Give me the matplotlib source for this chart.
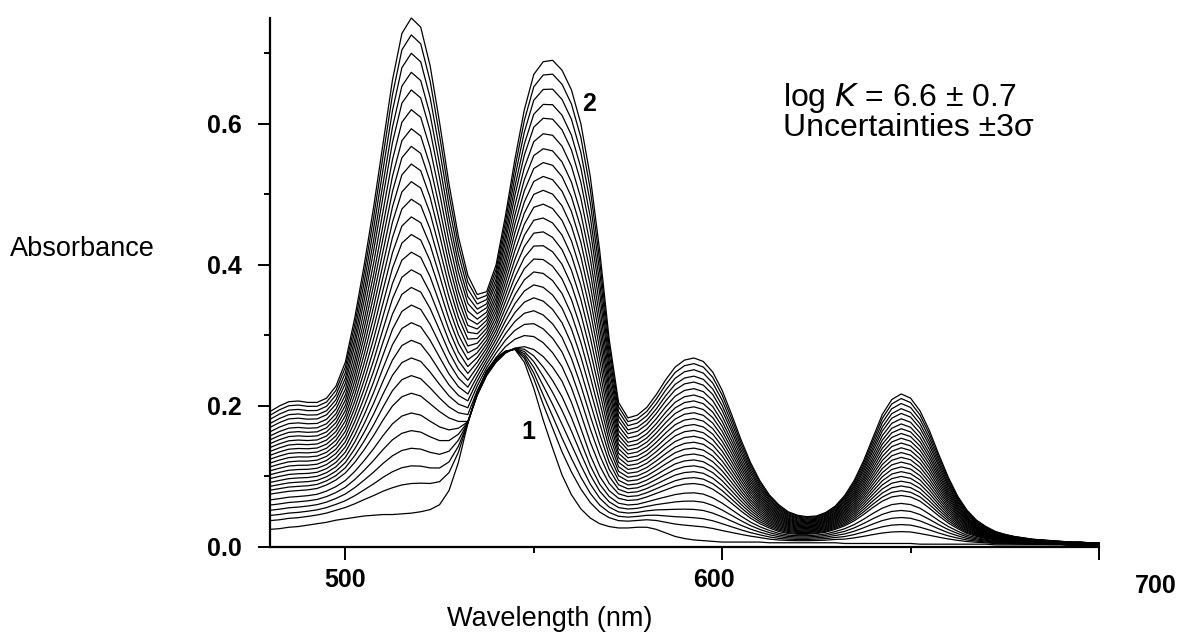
import matplotlib
matplotlib.use("Agg")
import matplotlib.pyplot as plt
import numpy as np
from matplotlib.ticker import FixedLocator
from matplotlib.transforms import ScaledTranslation

plt.rcParams["font.family"] = ["Liberation Sans", "DejaVu Sans"]

# sampling grid of the spectra (nm)
wavelength = np.arange(480.0, 700.1, 2.5)

# curve 1: free ligand
spec_start = [
    0.025, 0.026, 0.028, 0.029, 0.031, 0.033, 0.035, 0.038, 0.040, 0.042,
    0.044, 0.045, 0.046, 0.046, 0.047, 0.048, 0.050, 0.053, 0.060, 0.080,
    0.120, 0.175, 0.220, 0.250, 0.268, 0.278, 0.280, 0.262, 0.225, 0.180,
    0.140, 0.102, 0.074, 0.054, 0.041, 0.033, 0.029, 0.027, 0.027, 0.028,
    0.028, 0.025, 0.020, 0.015, 0.012, 0.010, 0.009, 0.008, 0.007, 0.007,
    0.007, 0.007, 0.007, 0.006, 0.006, 0.006, 0.006, 0.006, 0.006, 0.006,
    0.006, 0.005, 0.005, 0.005, 0.005, 0.005, 0.005, 0.005, 0.005, 0.004,
    0.004, 0.004, 0.004, 0.004, 0.004, 0.004, 0.004, 0.003, 0.003, 0.003,
    0.003, 0.003, 0.003, 0.003, 0.003, 0.002, 0.002, 0.002, 0.002,
]

# last trace that still goes through the 532/545 nm crossing points
spec_mid = [
    0.075, 0.077, 0.079, 0.080, 0.081, 0.083, 0.088, 0.095, 0.105, 0.120,
    0.138, 0.158, 0.180, 0.200, 0.213, 0.218, 0.214, 0.203, 0.192, 0.183,
    0.178, 0.178, 0.215, 0.243, 0.262, 0.275, 0.282, 0.284, 0.280, 0.270,
    0.255, 0.235, 0.205, 0.168, 0.130, 0.100, 0.080, 0.069, 0.066, 0.067,
    0.071, 0.076, 0.081, 0.086, 0.089, 0.090, 0.088, 0.082, 0.073, 0.062,
    0.051, 0.041, 0.033, 0.027, 0.022, 0.019, 0.018, 0.018, 0.019, 0.021,
    0.025, 0.030, 0.037, 0.046, 0.056, 0.065, 0.071, 0.073, 0.071, 0.065,
    0.055, 0.044, 0.034, 0.026, 0.019, 0.015, 0.012, 0.010, 0.009, 0.008,
    0.007, 0.006, 0.006, 0.005, 0.005, 0.005, 0.004, 0.004, 0.004,
]

# curve 2: end of the titration
spec_end = [
    0.192, 0.200, 0.206, 0.207, 0.205, 0.205, 0.211, 0.228, 0.262, 0.325,
    0.400, 0.482, 0.572, 0.662, 0.728, 0.750, 0.737, 0.682, 0.602, 0.515,
    0.440, 0.385, 0.358, 0.362, 0.400, 0.470, 0.550, 0.620, 0.670, 0.688,
    0.690, 0.676, 0.648, 0.600, 0.525, 0.420, 0.295, 0.205, 0.183, 0.187,
    0.198, 0.216, 0.237, 0.255, 0.265, 0.268, 0.263, 0.248, 0.222, 0.188,
    0.152, 0.120, 0.094, 0.074, 0.060, 0.050, 0.045, 0.043, 0.044, 0.049,
    0.058, 0.073, 0.094, 0.122, 0.155, 0.188, 0.209, 0.217, 0.211, 0.193,
    0.165, 0.131, 0.099, 0.072, 0.052, 0.038, 0.029, 0.022, 0.018, 0.015,
    0.013, 0.011, 0.010, 0.009, 0.008, 0.007, 0.007, 0.006, 0.006,
]

# absorbance of every trace at 517.5 nm, bottom to top
peak_517 = [
    0.048, 0.090, 0.115, 0.140, 0.165, 0.190, 0.218, 0.243, 0.268, 0.293,
    0.318, 0.343, 0.368, 0.393, 0.418, 0.443, 0.468, 0.493, 0.518, 0.543,
    0.568, 0.593, 0.620, 0.648, 0.673, 0.700, 0.726, 0.750,
]

spec_start = np.array(spec_start)
spec_mid = np.array(spec_mid)
spec_end = np.array(spec_end)
i517 = int(np.argmin(np.abs(wavelength - 517.5)))

fig = plt.figure(figsize=(11.82, 6.32), dpi=100)
ax = fig.add_axes([270 / 1182, 85 / 632, 829 / 1182, 529 / 632])

for p in peak_517:
    if p <= spec_mid[i517]:
        t = (p - spec_start[i517]) / (spec_mid[i517] - spec_start[i517])
        y = spec_start + t * (spec_mid - spec_start)
    else:
        t = (p - spec_mid[i517]) / (spec_end[i517] - spec_mid[i517])
        y = spec_mid + t * (spec_end - spec_mid)
    ax.plot(wavelength, y, color="black", lw=0.9, clip_on=False)

ax.set_xlim(480, 700)
ax.set_ylim(0, 0.75)
for s in ("top", "right"):
    ax.spines[s].set_visible(False)
for s in ("left", "bottom"):
    ax.spines[s].set_linewidth(1.6)

ax.xaxis.set_major_locator(FixedLocator([500, 600, 700]))
ax.xaxis.set_minor_locator(FixedLocator([550, 650]))
ax.yaxis.set_major_locator(FixedLocator([0.0, 0.2, 0.4, 0.6]))
ax.yaxis.set_minor_locator(FixedLocator([0.1, 0.3, 0.5, 0.7]))
ax.tick_params(which="major", length=9, width=1.4, direction="out")
ax.tick_params(which="minor", length=4.5, width=1.4, direction="out")
ax.tick_params(axis="y", which="major", pad=11)
ax.tick_params(axis="x", which="major", pad=6)
ax.set_yticklabels(["0.0", "0.2", "0.4", "0.6"], fontsize=18, fontweight="bold")
ax.set_xticklabels(["500", "600", "700"], fontsize=18, fontweight="bold")

# the 600 and 700 labels sit off their ticks in the original
xl = ax.get_xticklabels()
xl[1].set_transform(xl[1].get_transform() + ScaledTranslation(-0.08, 0, fig.dpi_scale_trans))
xl[2].set_transform(xl[2].get_transform() + ScaledTranslation(0.57, -0.06, fig.dpi_scale_trans))

fig.text(10 / 1182, 1 - 249 / 632, "Absorbance", fontsize=19.5, ha="left", va="center")
fig.text(550 / 1182, 1 - 619 / 632, "Wavelength (nm)", fontsize=19.5, ha="center", va="center")

ax.text(564.6, 0.628, "2", fontsize=18, fontweight="bold", ha="center", va="center")
ax.text(548.7, 0.163, "1", fontsize=18, fontweight="bold", ha="center", va="center")
ax.text(616.2, 0.6255, "log $\\it{K}$ = 6.6 ± 0.7", fontsize=23, ha="left", va="baseline")
ax.text(616.2, 0.582, "Uncertainties ±3σ", fontsize=23, ha="left", va="baseline")

fig.savefig("out.png", dpi=100)
